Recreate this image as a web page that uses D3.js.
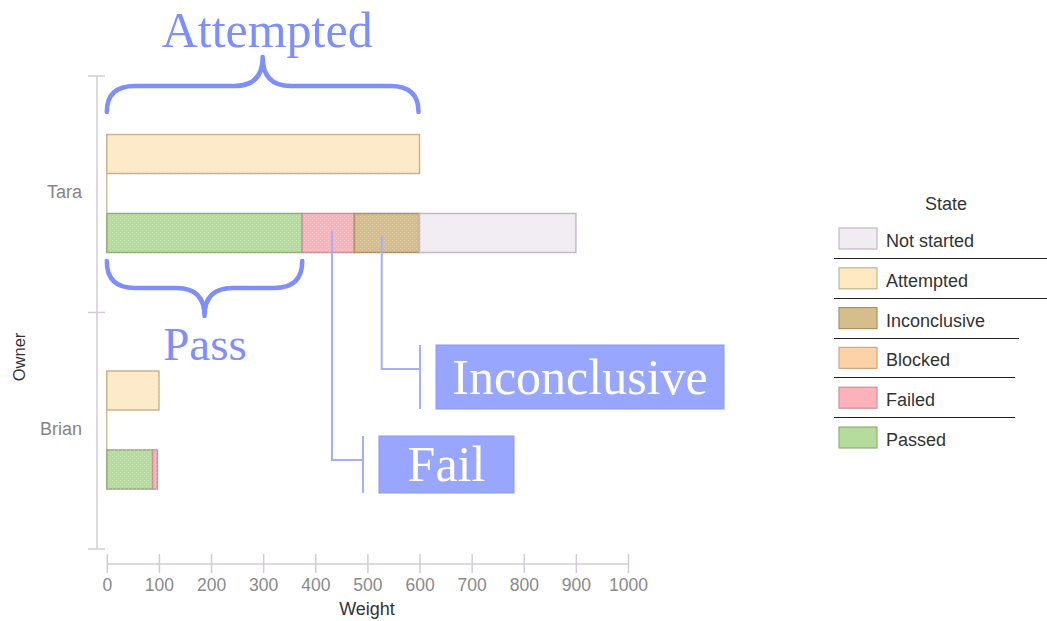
<!DOCTYPE html>
<html>
<head>
<meta charset="utf-8">
<script src="https://cdn.jsdelivr.net/npm/d3@7"></script>
<style>
  html, body { margin: 0; padding: 0; background: #ffffff; }
  svg { display: block; }
</style>
</head>
<body>
<svg id="chart" width="1047" height="621"></svg>
<script>
// Owners and the work weight recorded for each test state
const owners = ["Tara", "Brian"];
const attempted = [600, 100];
const passed = [375, 88];
const failed = [100, 9];
const inconclusive = [125, 0];
const notStarted = [300, 0];
const xTicks = [0, 100, 200, 300, 400, 500, 600, 700, 800, 900, 1000];
const stateNames = ["Not started", "Attempted", "Inconclusive", "Blocked", "Failed", "Passed"];
const stateFill = ["#f1ebf2", "#ffe9c3", "#d6be8c", "#fdd2a8", "#fbb3b9", "#b6dc9d"];
const stateStroke = ["#c4b8c6", "#c9b28e", "#a99263", "#d3a682", "#d08f96", "#8fae78"];

const svg = d3.select("#chart");
const fontSans = "'Liberation Sans', Arial, sans-serif";
const fontSerif = "'Liberation Serif', 'Times New Roman', serif";
const accent = "#7e8ffd";

const x = d3.scaleLinear().domain([0, 1000]).range([106.8, 628]);
const y = d3.scaleBand().domain(owners).range([76, 549]);
const barH = 39;
const topOff = 58.5;
const lowOff = 137.5;

// Light texture used inside the bars
const defs = svg.append("defs");
const pat = defs.append("pattern").attr("id", "grain").attr("width", 4).attr("height", 4)
  .attr("patternUnits", "userSpaceOnUse");
pat.append("rect").attr("x", 0).attr("y", 0).attr("width", 1).attr("height", 1).attr("fill", "#ffffff").attr("opacity", 0.25);
pat.append("rect").attr("x", 2).attr("y", 2).attr("width", 1).attr("height", 1).attr("fill", "#ffffff").attr("opacity", 0.25);

// Y axis (category boundaries)
const yAxisX = 97;
const axisColor = "#d3cbd5";
svg.append("line").attr("x1", yAxisX).attr("x2", yAxisX)
  .attr("y1", y.range()[0]).attr("y2", y.range()[1])
  .attr("stroke", axisColor).attr("stroke-width", 1.5);
const bounds = owners.map(o => y(o)).concat([y.range()[1]]);
svg.selectAll(".ytick").data(bounds).join("line")
  .attr("x1", 88).attr("x2", 105).attr("y1", d => d).attr("y2", d => d)
  .attr("stroke", axisColor).attr("stroke-width", 1.5);
svg.selectAll(".ylab").data(owners).join("text")
  .attr("x", 82).attr("y", d => y(d) + y.bandwidth() / 2 + 4)
  .attr("text-anchor", "end")
  .attr("font-family", fontSans).attr("font-size", 18).attr("fill", "#858585")
  .text(d => d);
svg.append("text")
  .attr("transform", "translate(25,357) rotate(-90)")
  .attr("text-anchor", "middle")
  .attr("font-family", fontSans).attr("font-size", 16.5).attr("fill", "#333333")
  .text("Owner");

// X axis
const axisY = 564;
svg.append("line").attr("x1", x(0)).attr("x2", x(1000)).attr("y1", axisY).attr("y2", axisY)
  .attr("stroke", axisColor).attr("stroke-width", 1.5);
const xa = svg.append("g").attr("transform", "translate(0,554)")
  .call(d3.axisBottom(x).tickValues(xTicks).tickFormat(d3.format("d")).tickSize(19).tickSizeOuter(0));
xa.select(".domain").remove();
xa.selectAll(".tick line").attr("stroke", axisColor).attr("stroke-width", 1.5);
xa.selectAll(".tick text").attr("y", 36.5).attr("dy", null)
  .attr("font-family", fontSans).attr("font-size", 17.5).attr("fill", "#8a8a8a");
svg.append("text").attr("x", 367).attr("y", 615)
  .attr("text-anchor", "middle")
  .attr("font-family", fontSans).attr("font-size", 18).attr("fill", "#333333")
  .text("Weight");

// Connector between the two bars of each owner
svg.selectAll(".conn").data(owners).join("line")
  .attr("x1", x(0)).attr("x2", x(0))
  .attr("y1", d => y(d) + topOff + barH).attr("y2", d => y(d) + lowOff)
  .attr("stroke", "#c9ab8c").attr("stroke-width", 1.2);

function drawBar(x0, x1, yy, idx) {
  if (x1 - x0 <= 0) return;
  svg.append("rect").attr("x", x0).attr("y", yy).attr("width", x1 - x0).attr("height", barH)
    .attr("fill", stateFill[idx]).attr("stroke", stateStroke[idx]).attr("stroke-width", 1.5);
  svg.append("rect").attr("x", x0).attr("y", yy).attr("width", x1 - x0).attr("height", barH)
    .attr("fill", "url(#grain)");
}

owners.forEach((o, i) => {
  drawBar(x(0), x(attempted[i]), y(o) + topOff, 1);
  const segs = [[passed[i], 5], [failed[i], 4], [inconclusive[i], 2], [notStarted[i], 0]];
  let acc = 0;
  segs.forEach(([v, idx]) => {
    drawBar(x(acc), x(acc + v), y(o) + lowOff, idx);
    acc += v;
  });
});

// Curly braces
function brace(xa0, xa1, yEnd, yMid, yTip) {
  const r = Math.min(28, (xa1 - xa0) / 6);
  const cx = (xa0 + xa1) / 2;
  return `M${xa0},${yEnd} Q${xa0},${yMid} ${xa0 + r},${yMid} L${cx - r},${yMid} ` +
    `Q${cx},${yMid} ${cx},${yTip} Q${cx},${yMid} ${cx + r},${yMid} ` +
    `L${xa1 - r},${yMid} Q${xa1},${yMid} ${xa1},${yEnd}`;
}
const braceG = svg.append("g").attr("fill", "none").attr("stroke", accent)
  .attr("stroke-width", 4.5).attr("stroke-linecap", "round").attr("stroke-linejoin", "round");
braceG.append("path").attr("d", brace(x(0), x(attempted[0]) - 1, 112, 86, 57));
braceG.append("path").attr("d", brace(x(0), x(passed[0]), 261, 288, 316));

svg.append("text").attr("x", (x(0) + x(attempted[0])) / 2 + 4).attr("y", 47)
  .attr("text-anchor", "middle").attr("font-family", fontSerif).attr("font-size", 50)
  .attr("fill", accent).text("Attempted");
svg.append("text").attr("x", (x(0) + x(passed[0])) / 2 + 0.5).attr("y", 360)
  .attr("text-anchor", "middle").attr("font-family", fontSerif).attr("font-size", 47)
  .attr("fill", accent).text("Pass");

// Callouts
const callLine = "#a3affd";
function callout(ax, ay, elbowY, tickX, t0, t1, boxX0, boxX1, label, fs) {
  svg.append("path")
    .attr("d", `M${ax},${ay} L${ax},${elbowY} L${tickX},${elbowY}`)
    .attr("fill", "none").attr("stroke", callLine).attr("stroke-width", 2);
  svg.append("line").attr("x1", tickX).attr("x2", tickX).attr("y1", t0).attr("y2", t1)
    .attr("stroke", callLine).attr("stroke-width", 2);
  svg.append("rect").attr("x", boxX0).attr("y", t0).attr("width", boxX1 - boxX0).attr("height", t1 - t0)
    .attr("fill", "#98a6fd").attr("stroke", "#8898fd").attr("stroke-width", 1);
  svg.append("text").attr("x", (boxX0 + boxX1) / 2).attr("y", t0 + (t1 - t0) / 2 + fs * 0.33)
    .attr("text-anchor", "middle").attr("font-family", fontSerif).attr("font-size", fs)
    .attr("fill", "#ffffff").text(label);
}
const tY = y("Tara") + lowOff;
callout(x(passed[0] + failed[0] * 0.57), tY + 17, 460, 363, 436, 493, 379, 514, "Fail", 50);
callout(x(passed[0] + failed[0] + inconclusive[0] * 0.42), tY + 22, 369, 420, 345, 409, 436, 724, "Inconclusive", 50);

// Legend
const lg = svg.append("g");
lg.append("text").attr("x", 946).attr("y", 210).attr("text-anchor", "middle")
  .attr("font-family", fontSans).attr("font-size", 18).attr("fill", "#333333").text("State");
const rowY = d3.scaleLinear().domain([0, 5]).range([228, 427]);
stateNames.forEach((n, i) => {
  lg.append("rect").attr("x", 839).attr("y", rowY(i)).attr("width", 38).attr("height", 21)
    .attr("fill", stateFill[i]).attr("stroke", stateStroke[i]).attr("stroke-width", 1.2);
  lg.append("text").attr("x", 886).attr("y", rowY(i) + 19)
    .attr("font-family", fontSans).attr("font-size", 18).attr("fill", "#333333").text(n);
});
const sepEnds = [1047, 1047, 1019, 1015, 1015];
sepEnds.forEach((e, i) => {
  const yy = Math.round((rowY(i) + rowY(i + 1)) / 2 + 10) + 0.5;
  lg.append("line").attr("x1", 834).attr("x2", e).attr("y1", yy).attr("y2", yy)
    .attr("stroke", "#222222").attr("stroke-width", 1.2);
});
</script>
</body>
</html>
